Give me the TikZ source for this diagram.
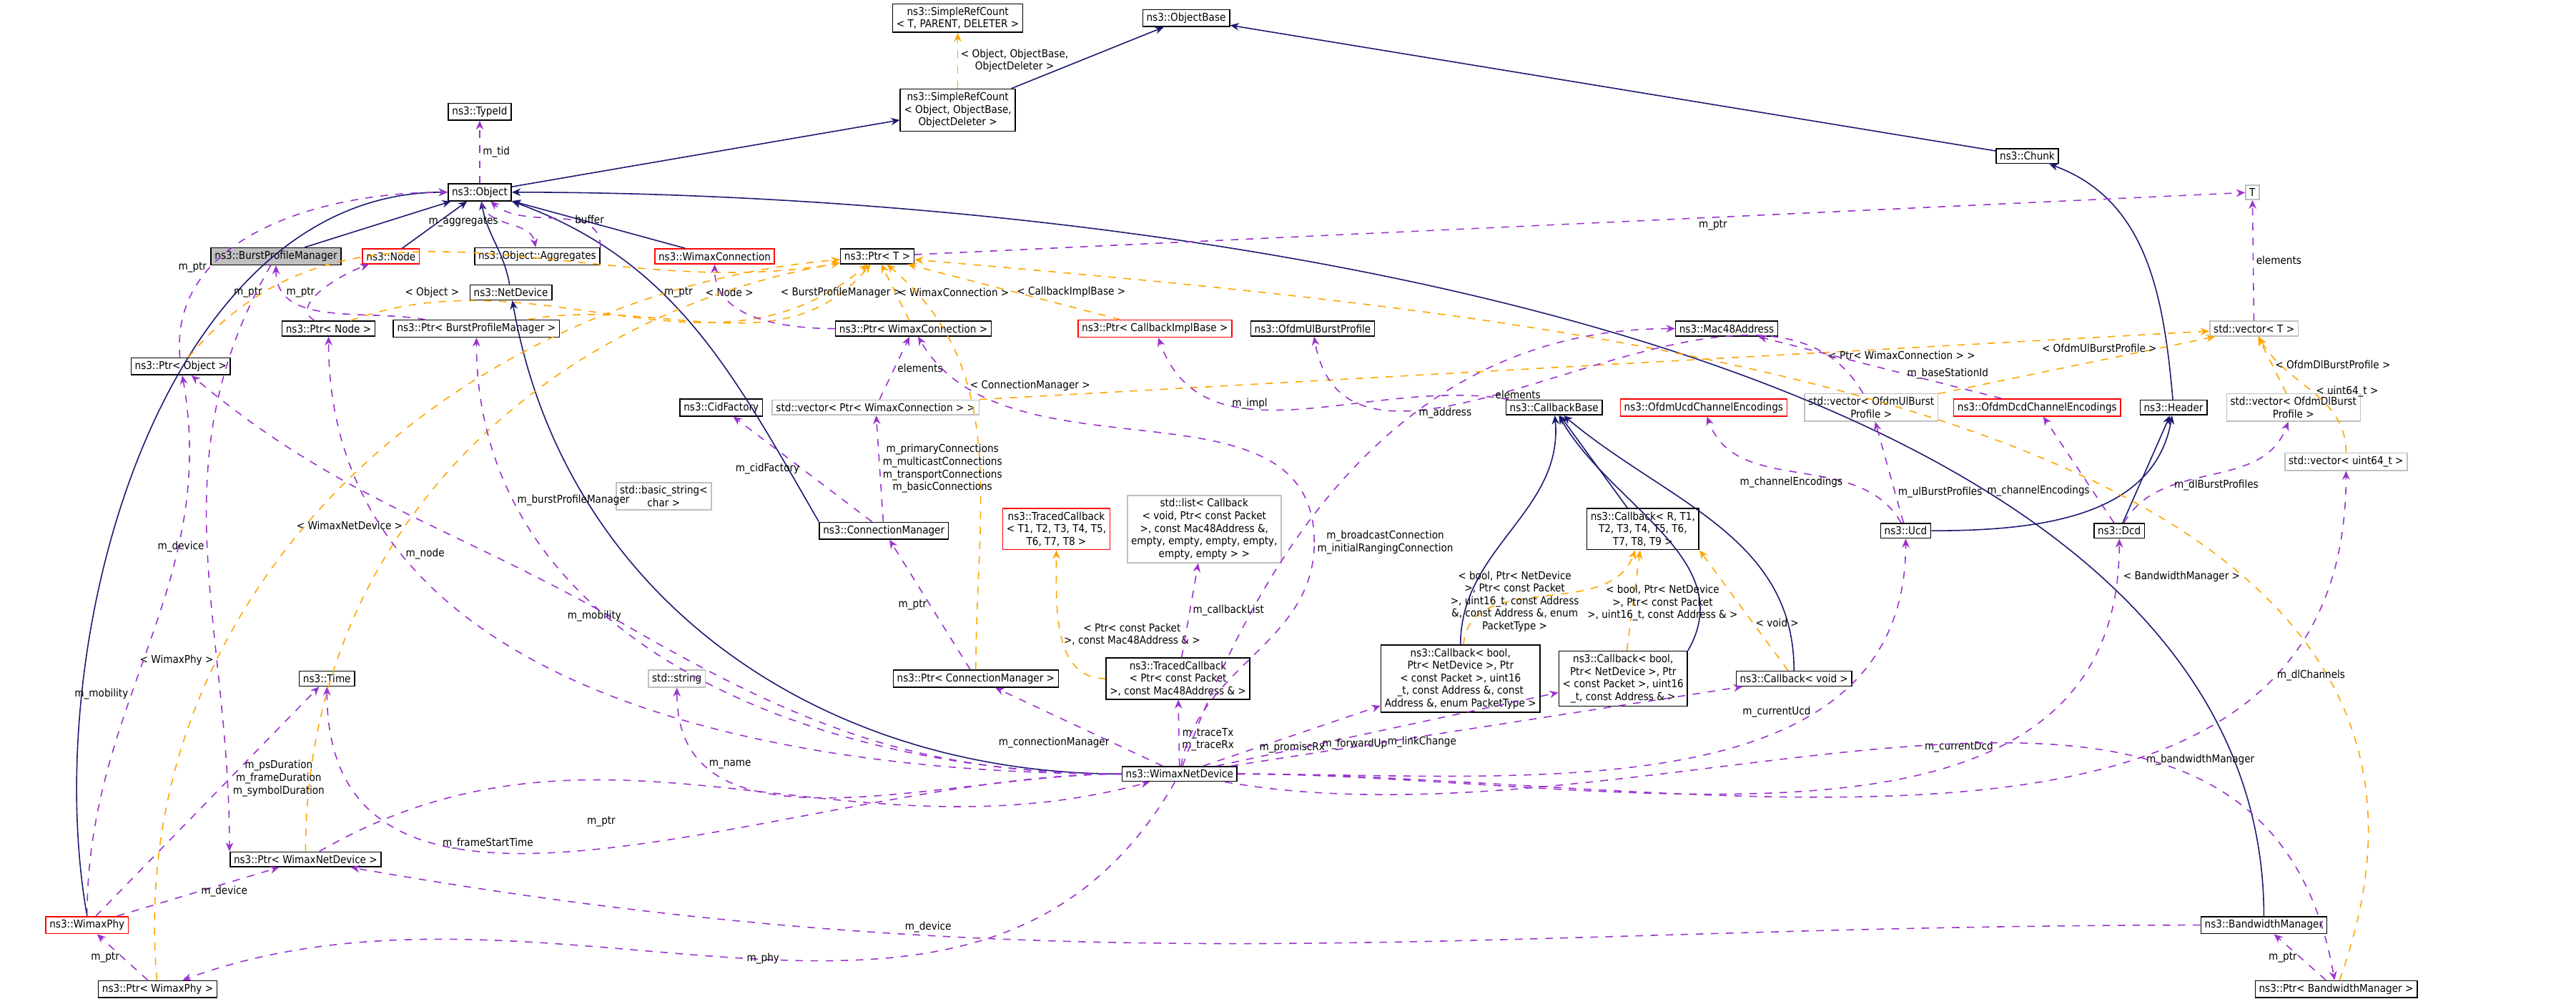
\documentclass[tikz,border=0pt]{standalone}
\usepackage{fontspec}
\setmainfont{DejaVu Sans Condensed}
\usetikzlibrary{arrows.meta}
\definecolor{inh}{HTML}{191970}
\definecolor{use}{HTML}{9A32CD}
\definecolor{tpl}{HTML}{FFA500}
\definecolor{grey}{HTML}{BFBFBF}

\begin{document}
\begin{tikzpicture}[x=0.023cm, y=-0.023cm, line width=0.45pt,
    font=\fontsize{4.3}{5}\selectfont,
    cls/.style = {rectangle, draw=black, fill=white, inner xsep=1.5pt, inner ysep=1.3pt, align=center},
    redcls/.style = {cls, draw=red},
    ext/.style = {cls, draw=grey},
    inherit/.style = {draw=inh, -{Stealth[length=3.5pt,width=3pt]}},
    member/.style = {draw=use, dashed, -{Stealth[length=3.5pt,width=3pt]}},
    templ/.style = {draw=tpl, dashed, -{Stealth[length=3.5pt,width=3pt]}},
    lbl/.style = {fill=none, inner sep=1pt, align=center}]
  \useasboundingbox (0,0) rectangle (1568,611);

  % Classes.
  \node at (583, 11) [cls, name=SRCT] {ns3::SimpleRefCount\\< T, PARENT, DELETER >};
  \node at (722, 11) [cls, name=ObjectBase] {ns3::ObjectBase};
  \node at (583, 67) [cls, name=SRCObject] {ns3::SimpleRefCount\\< Object, ObjectBase,\\ObjectDeleter >};
  \node at (292, 68) [cls, name=TypeId] {ns3::TypeId};
  \node at (292, 117) [cls, name=Object] {ns3::Object};
  \node at (1234, 95) [cls, name=Chunk] {ns3::Chunk};
  \node at (1371, 117) [ext, name=T] {T};
  \node at (168, 156) [cls, fill=grey, name=BPM] {ns3::BurstProfileManager};
  \node at (238, 156) [redcls, name=Node] {ns3::Node};
  \node at (327, 156) [cls, name=Aggregates] {ns3::Object::Aggregates};
  \node at (435, 156) [redcls, name=WimaxConnection] {ns3::WimaxConnection};
  \node at (534, 156) [cls, name=PtrT] {ns3::Ptr< T >};
  \node at (311, 178) [cls, name=NetDevice] {ns3::NetDevice};
  \node at (200, 200) [cls, name=PtrNode] {ns3::Ptr< Node >};
  \node at (290, 200) [cls, name=PtrBPM] {ns3::Ptr< BurstProfileManager >};
  \node at (110, 223) [cls, name=PtrObject] {ns3::Ptr< Object >};
  \node at (556, 200) [cls, name=PtrWC] {ns3::Ptr< WimaxConnection >};
  \node at (703, 200) [redcls, name=PtrCIB] {ns3::Ptr< CallbackImplBase >};
  \node at (799, 200) [cls, name=OfdmUlBurstProfile] {ns3::OfdmUlBurstProfile};
  \node at (1051, 200) [cls, name=Mac48Address] {ns3::Mac48Address};
  \node at (1372, 200) [ext, name=VectorT] {std::vector< T >};
  \node at (439, 248) [cls, name=CidFactory] {ns3::CidFactory};
  \node at (533, 248) [ext, name=VectorPtrWC] {std::vector< Ptr< WimaxConnection > >};
  \node at (946, 248) [cls, name=CallbackBase] {ns3::CallbackBase};
  \node at (1037, 248) [redcls, name=UcdEnc] {ns3::OfdmUcdChannelEncodings};
  \node at (1139, 248) [ext, name=VectorUl] {std::vector< OfdmUlBurst\\Profile >};
  \node at (1240, 248) [redcls, name=DcdEnc] {ns3::OfdmDcdChannelEncodings};
  \node at (1323, 248) [cls, name=Header] {ns3::Header};
  \node at (1396, 248) [ext, name=VectorDl] {std::vector< OfdmDlBurst\\Profile >};
  \node at (1428, 281) [ext, name=VectorU64] {std::vector< uint64\_t >};
  \node at (404, 302) [ext, name=BasicString] {std::basic\_string<\\char >};
  \node at (538, 323) [cls, name=ConnectionManager] {ns3::ConnectionManager};
  \node at (643, 322) [redcls, name=TracedCbT] {ns3::TracedCallback\\< T1, T2, T3, T4, T5,\\T6, T7, T8 >};
  \node at (733, 322) [ext, name=CbList] {std::list< Callback\\< void, Ptr< const Packet\\>, const Mac48Address \&,\\empty, empty, empty, empty,\\empty, empty > >};
  \node at (1000, 322) [cls, name=CallbackR] {ns3::Callback< R, T1,\\T2, T3, T4, T5, T6,\\T7, T8, T9 >};
  \node at (1160, 323) [cls, name=Ucd] {ns3::Ucd};
  \node at (1290, 323) [cls, name=Dcd] {ns3::Dcd};
  \node at (199, 413) [cls, name=Time] {ns3::Time};
  \node at (412, 413) [ext, name=String] {std::string};
  \node at (594, 413) [cls, name=PtrCM] {ns3::Ptr< ConnectionManager >};
  \node at (717, 413) [cls, name=TracedCbP] {ns3::TracedCallback\\< Ptr< const Packet\\>, const Mac48Address \& >};
  \node at (889, 413) [cls, name=CallbackPT] {ns3::Callback< bool,\\Ptr< NetDevice >, Ptr\\< const Packet >, uint16\\\_t, const Address \&, const\\Address \&, enum PacketType >};
  \node at (988, 413) [cls, name=CallbackAd] {ns3::Callback< bool,\\Ptr< NetDevice >, Ptr\\< const Packet >, uint16\\\_t, const Address \& >};
  \node at (1092, 413) [cls, name=CallbackVoid] {ns3::Callback< void >};
  \node at (718, 471) [cls, name=WimaxNetDevice] {ns3::WimaxNetDevice};
  \node at (186, 523) [cls, name=PtrWND] {ns3::Ptr< WimaxNetDevice >};
  \node at (53, 563) [redcls, name=WimaxPhy] {ns3::WimaxPhy};
  \node at (1378, 563) [cls, name=BandwidthManager] {ns3::BandwidthManager};
  \node at (96, 602) [cls, name=PtrPhy] {ns3::Ptr< WimaxPhy >};
  \node at (1422, 602) [cls, name=PtrBM] {ns3::Ptr< BandwidthManager >};

  % Bend points for long member links.
  \coordinate (broadcast) at (800, 330);
  \coordinate (mobility) at (380, 380);

  % Inheritance.
  \draw [inherit] (SRCObject) to (ObjectBase);
  \draw [inherit] (Object) to (SRCObject);
  \draw [inherit] (Chunk) to (ObjectBase);
  \draw [inherit] (BPM) to (Object);
  \draw [inherit] (Node) to (Object);
  \draw [inherit] (NetDevice) to [out=100, in=-80] (Object);
  \draw [inherit] (WimaxConnection) to (Object);
  \draw [inherit] (ConnectionManager.north west) to [out=120, in=-20] (Object.south east);
  \draw [inherit] (WimaxPhy.north) to [out=100, in=180, looseness=0.9] (Object.west);
  \draw [inherit] (BandwidthManager.north) to [out=90, in=0, looseness=0.8] (Object.east);
  \draw [inherit] (WimaxNetDevice) to [out=180, in=-80] (NetDevice);
  \draw [inherit] (Header) to [out=95, in=-20] (Chunk);
  \draw [inherit] (Ucd) to [out=0, in=-100] (Header);
  \draw [inherit] (Dcd) to (Header);
  \draw [inherit] (CallbackR) to (CallbackBase);
  \draw [inherit] (CallbackPT) to [out=90, in=-85] (CallbackBase);
  \draw [inherit] (CallbackAd.north east) to [out=60, in=-60] (CallbackBase);
  \draw [inherit] (CallbackVoid) to [out=90, in=-40] (CallbackBase);

  % Template instances.
  \draw [templ] (SRCObject) to node [lbl, right] {< Object, ObjectBase,\\ObjectDeleter >} (SRCT);
  \draw [templ] (PtrObject) to [out=50, in=190] (PtrT);
  \node at (263, 178) [lbl] {< Object >};
  \draw [templ] (PtrNode) to [out=20, in=220] (PtrT);
  \node at (444, 178) [lbl] {< Node >};
  \draw [templ] (PtrBPM) to [out=10, in=230] (PtrT);
  \node at (512, 178) [lbl] {< BurstProfileManager >};
  \draw [templ] (PtrWC) to node [lbl, right] {< WimaxConnection >} (PtrT);
  \draw [templ] (PtrCIB) to node [lbl, right] {< CallbackImplBase >} (PtrT);
  \draw [templ] (PtrCM) to [out=90, in=-40] node [lbl, pos=0.65, right] {< ConnectionManager >} (PtrT);
  \draw [templ] (PtrWND) to [out=90, in=190] node [lbl, pos=0.4, left] {< WimaxNetDevice >} (PtrT);
  \draw [templ] (PtrPhy) to [out=95, in=185] node [lbl, pos=0.3, left] {< WimaxPhy >} (PtrT);
  \draw [templ] (PtrBM) to [out=70, in=-5] node [lbl, pos=0.3, left] {< BandwidthManager >} (PtrT);
  \draw [templ] (TracedCbP) to [out=180, in=-90] node [lbl, pos=0.5, right] {< Ptr< const Packet\\>, const Mac48Address \& >} (TracedCbT);
  \draw [templ] (CallbackPT) to [out=85, in=-110] (CallbackR);
  \node at (922, 366) [lbl] {< bool, Ptr< NetDevice\\>, Ptr< const Packet\\>, uint16\_t, const Address\\\&, const Address \&, enum\\PacketType >};
  \draw [templ] (CallbackAd) to (CallbackR);
  \node at (1012, 367) [lbl] {< bool, Ptr< NetDevice\\>, Ptr< const Packet\\>, uint16\_t, const Address \& >};
  \draw [templ] (CallbackVoid) to node [lbl, right, pos=0.4] {< void >} (CallbackR.south east);
  \draw [templ] (VectorPtrWC.north east) to node [lbl, pos=0.75, below] {< Ptr< WimaxConnection > >} (VectorT);
  \draw [templ] (VectorUl) to node [lbl, pos=0.8, left] {< OfdmUlBurstProfile >} (VectorT);
  \draw [templ] (VectorDl) to node [lbl, pos=0.5, right] {< OfdmDlBurstProfile >} (VectorT);
  \draw [templ] (VectorU64) to [out=90, in=-60] node [lbl, pos=0.5, right] {< uint64\_t >} (VectorT);

  % Members.
  \draw [member] (Object) to node [lbl, right] {m\_tid} (TypeId);
  \draw [member] (Object) to [out=-80, in=100] node [lbl, left, pos=0.4] {m\_aggregates} (Aggregates);
  \draw [member] (Aggregates.north east) to [out=90, in=-40] node [lbl, right, pos=0.4] {buffer} (Object);
  \draw [member] (PtrObject) to [out=95, in=180] node [lbl, left, pos=0.3] {m\_ptr} (Object);
  \draw [member] (PtrNode) to [out=150, in=200] (Node);
  \node at (151, 178) [lbl] {m\_ptr};
  \draw [member] (PtrBPM) to [out=170, in=-90] (BPM);
  \node at (183, 178) [lbl] {m\_ptr};
  \draw [member] (PtrWC) to [out=180, in=-90] (WimaxConnection);
  \node at (413, 178) [lbl] {m\_ptr};
  \draw [member] (PtrT) to node [lbl, below, pos=0.6] {m\_ptr} (T);
  \draw [member] (VectorT) to node [lbl, right] {elements} (T);
  \draw [member] (VectorPtrWC) to node [lbl, right] {elements} (PtrWC);
  \draw [member] (VectorUl) to [out=120, in=-80] node [lbl, right, pos=0.6] {elements} (OfdmUlBurstProfile);
  \draw [member] (CallbackBase) to [out=170, in=-70] node [lbl, right, pos=0.7] {m\_impl} (PtrCIB);
  \draw [member] (DcdEnc) to node [lbl, right, pos=0.4] {m\_baseStationId} (Mac48Address);
  \draw [member] (ConnectionManager) to node [lbl, left] {m\_cidFactory} (CidFactory);
  \draw [member] (ConnectionManager) to node [lbl, right] {m\_primaryConnections\\m\_multicastConnections\\m\_transportConnections\\m\_basicConnections} (VectorPtrWC);
  \draw [member] (PtrCM) to node [lbl, left] {m\_ptr} (ConnectionManager);
  \draw [member] (TracedCbP) to node [lbl, right] {m\_callbackList} (CbList);
  \draw [member] (Ucd) to [out=120, in=-70] node [lbl, left, pos=0.3] {m\_channelEncodings} (UcdEnc);
  \draw [member] (Ucd) to node [lbl, right, pos=0.3] {m\_ulBurstProfiles} (VectorUl);
  \draw [member] (Dcd) to node [lbl, left, pos=0.3] {m\_channelEncodings} (DcdEnc);
  \draw [member] (Dcd) to [out=60, in=-110] node [lbl, right, pos=0.3] {m\_dlBurstProfiles} (VectorDl);
  \draw [member] (WimaxNetDevice) to [out=180, in=-90] node [lbl, right, pos=0.7] {m\_frameStartTime} (Time);
  \draw [member] (WimaxNetDevice) to [out=180, in=-90] node [lbl, right, pos=0.8] {m\_name} (String);
  \draw [member] (WimaxNetDevice) to node [lbl, left, pos=0.3] {m\_connectionManager} (PtrCM);
  \draw [member] (WimaxNetDevice) to node [lbl, right, pos=0.4] {m\_traceTx\\m\_traceRx} (TracedCbP);
  \draw [member] (WimaxNetDevice) to node [lbl, right, pos=0.3] {m\_promiscRx} (CallbackPT);
  \draw [member] (WimaxNetDevice) to node [lbl, right, pos=0.3] {m\_forwardUp} (CallbackAd);
  \draw [member] (WimaxNetDevice) to node [lbl, right, pos=0.3] {m\_linkChange} (CallbackVoid);
  \draw [member] (WimaxNetDevice) to [out=0, in=-90] node [lbl, left, pos=0.7] {m\_currentUcd} (Ucd);
  \draw [member] (WimaxNetDevice) to [out=0, in=-90] node [lbl, left, pos=0.7] {m\_currentDcd} (Dcd);
  \draw [member] (WimaxNetDevice) to [out=0, in=-90] node [lbl, right, pos=0.8] {m\_dlChannels} (VectorU64);
  \draw [member] (WimaxNetDevice) to [out=70, in=180] node [lbl, right, pos=0.6] {m\_address} (Mac48Address);
  \draw (WimaxNetDevice) to [out=80, in=-90] (broadcast) [draw=use, dashed];
  \draw [member] (broadcast) to [out=90, in=-60] (PtrWC);
  \node at (broadcast) [lbl, right] {m\_broadcastConnection\\m\_initialRangingConnection};
  \draw (WimaxNetDevice) to [out=180, in=-30] (mobility) [draw=use, dashed];
  \draw [member] (mobility) to [out=150, in=-40] (PtrObject);
  \node at (mobility) [lbl, above left] {m\_mobility};
  \draw [member] (WimaxNetDevice) to [out=180, in=-90] node [lbl, right, pos=0.75] {m\_node} (PtrNode);
  \draw [member] (WimaxNetDevice) to [out=180, in=-90] node [lbl, right, pos=0.8] {m\_burstProfileManager} (PtrBPM);
  \draw [member] (WimaxNetDevice) to [out=-120, in=20] node [lbl, right, pos=0.5] {m\_phy} (PtrPhy);
  \draw [member] (WimaxNetDevice) to [out=-10, in=100] node [lbl, right, pos=0.7] {m\_bandwidthManager} (PtrBM);
  \draw [member] (PtrWND) to [out=30, in=195] (WimaxNetDevice);
  \node at (366, 500) [lbl] {m\_ptr};
  \draw [member] (WimaxPhy) to node [lbl, right, pos=0.5] {m\_device} (PtrWND);
  \draw [member] (WimaxPhy) to node [lbl, pos=0.6, right] {m\_psDuration\\m\_frameDuration\\m\_symbolDuration} (Time);
  \draw [member] (WimaxPhy) to [out=90, in=-80] node [lbl, left, pos=0.4] {m\_mobility} (PtrObject);
  \draw [member] (BPM) to [out=-120, in=90] node [lbl, left, pos=0.5] {m\_device} (PtrWND.north west);
  \draw [member] (PtrPhy) to node [lbl, left] {m\_ptr} (WimaxPhy);
  \draw [member] (BandwidthManager) to [out=180, in=-10] node [lbl, above, pos=0.7] {m\_device} (PtrWND);
  \draw [member] (PtrBM) to node [lbl, left] {m\_ptr} (BandwidthManager);
\end{tikzpicture}
\end{document}
